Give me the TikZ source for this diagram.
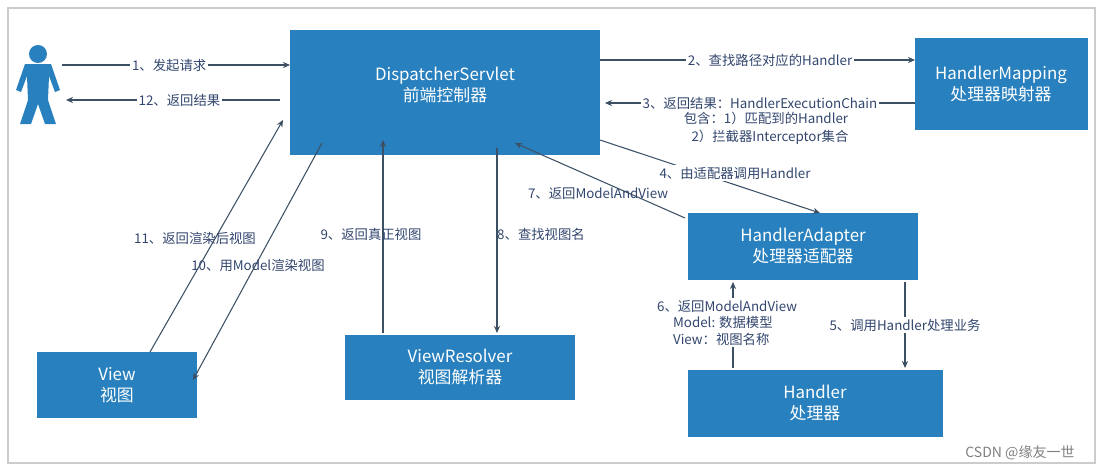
\documentclass[tikz,border=0pt]{standalone}
\usepackage{fontspec}
\setmainfont{Noto Sans CJK SC}
\usetikzlibrary{arrows.meta}
\definecolor{bx}{RGB}{40,128,190}
\definecolor{ln}{RGB}{60,80,100}
\definecolor{tx}{RGB}{50,70,110}
\begin{document}
\begin{tikzpicture}[x=0.02cm,y=-0.02cm,
 box/.style={fill=bx,draw=none,text=white,align=center,font=\fontsize{9.6}{12}\selectfont},
 lab/.style={text=tx,font=\fontsize{7.6}{9.5}\selectfont,inner sep=1pt,fill=white},
 labn/.style={text=tx,font=\fontsize{7.6}{9.5}\selectfont,inner sep=1pt},
 arr/.style={draw=ln,line width=0.6pt,-{Stealth[length=4pt,width=3.5pt]}}]
\useasboundingbox (0,0) rectangle (1103,471);
\draw[gray!40,line width=0.8pt] (8,8) rectangle (1095,463);
% boxes
\fill[bx] (290,30) rectangle (600,155); \node[box] (ds) at (445,85) {DispatcherServlet\\前端控制器};
\fill[bx] (915,38) rectangle (1088,130); \node[box] (hm) at (1001,84) {HandlerMapping\\处理器映射器};
\fill[bx] (688,213) rectangle (918,280); \node[box] (ha) at (803,246) {HandlerAdapter\\处理器适配器};
\fill[bx] (688,370) rectangle (943,437); \node[box] (h) at (815,403) {Handler\\处理器};
\fill[bx] (345,335) rectangle (575,400); \node[box] (vr) at (460,367) {ViewResolver\\视图解析器};
\fill[bx] (37,352) rectangle (197,418); \node[box] (v) at (117,385) {View\\视图};
% person
\begin{scope}[fill=bx]
\fill (38,54) circle (9);
\fill (25,64) -- (51,64) -- (60,90) -- (55,92) -- (49,76) -- (48,100) -- (56,124) -- (45,124) -- (38,104) -- (31,124) -- (20,124) -- (28,100) -- (27,76) -- (21,92) -- (16,90) -- cycle;
\end{scope}
% coordinates
\coordinate (a1s) at (62,65); \coordinate (a1e) at (290,65);
\coordinate (a12s) at (280,100); \coordinate (a12e) at (66,100);
\coordinate (a2s) at (600,60); \coordinate (a2e) at (915,60);
\coordinate (a3s) at (915,103); \coordinate (a3e) at (605,103);
\coordinate (a4s) at (600,140); \coordinate (a4e) at (820,213);
\coordinate (a7s) at (685,218); \coordinate (a7e) at (515,143);
\coordinate (a5s) at (905,282); \coordinate (a5e) at (905,368);
\coordinate (a6s) at (733,368); \coordinate (a6e) at (733,282);
\coordinate (a8s) at (497,148); \coordinate (a8e) at (497,333);
\coordinate (a9s) at (383,333); \coordinate (a9e) at (383,140);
\coordinate (a11s) at (150,352); \coordinate (a11e) at (283,120);
\coordinate (a10s) at (322,143); \coordinate (a10e) at (193,380);
\draw[arr] (a1s) -- node[lab,pos=0.47]{1、发起请求} (a1e);
\draw[arr] (a12s) -- node[lab,pos=0.47]{12、返回结果} (a12e);
\draw[arr] (a2s) -- node[lab,pos=0.54]{2、查找路径对应的Handler} (a2e);
\draw[arr] (a3s) -- node[lab,pos=0.5]{3、返回结果：HandlerExecutionChain} (a3e);
\node[labn] (t3a) at (766,118) {包含：1）匹配到的Handler};
\node[labn] (t3b) at (770,137) {2）拦截器Interceptor集合};
\draw[arr] (a4s) -- (a4e);
\node[lab] (t4) at (735,173) {4、由适配器调用Handler};
\draw[arr] (a7s) -- (a7e);
\node[labn] (t7) at (598,194) {7、返回ModelAndView};
\draw[arr] (a5s) -- node[lab,pos=0.5]{5、调用Handler处理业务} (a5e);
\draw[arr] (a6s) -- (a6e);
\node[lab,align=left,anchor=north west] (t6) at (655,298) {6、返回ModelAndView\\\hspace*{1.2em}Model: 数据模型\\\hspace*{1.2em}View：视图名称};
\draw[arr] (a8s) -- (a8e);
\node[labn] (t8) at (541,234) {8、查找视图名};
\draw[arr] (a9s) -- (a9e);
\node[labn] (t9) at (371,234) {9、返回真正视图};
\draw[arr] (a11s) -- (a11e);
\node[labn] (t11) at (195,238) {11、返回渲染后视图};
\draw[arr] (a10s) -- (a10e);
\node[labn] (t10) at (258,265) {10、用Model渲染视图};
\node[text=gray,font=\fontsize{8}{10}\selectfont] (wm) at (1020,453) {CSDN @缘友一世};
\end{tikzpicture}
\end{document}
